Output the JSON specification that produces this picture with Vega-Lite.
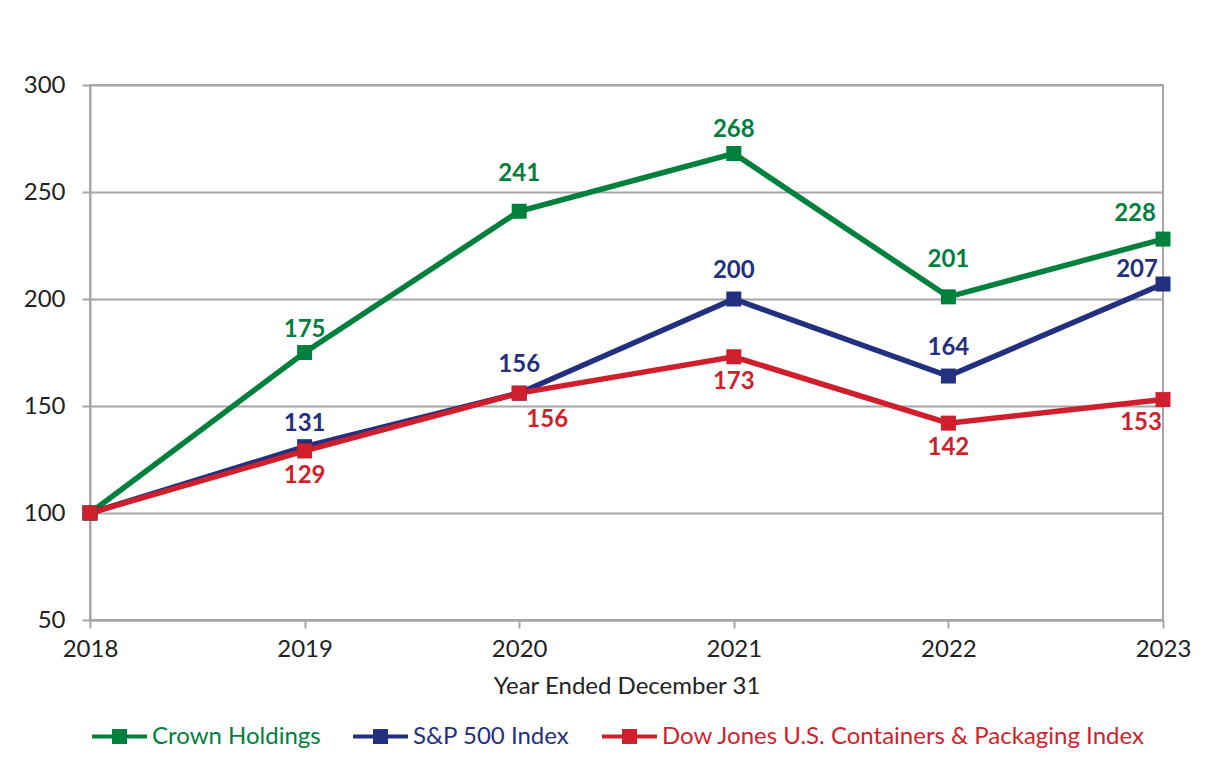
{
  "$schema": "https://vega.github.io/schema/vega-lite/v6.json",
  "width": 1073,
  "height": 535,
  "autosize": {"type": "none"},
  "padding": {"left": 90, "top": 85, "right": 57, "bottom": 147},
  "background": "white",
  "config": {
    "font": "Lato",
    "view": {"stroke": "#A6A6A6", "strokeWidth": 2},
    "axis": {"labelFont": "Lato", "titleFont": "Lato", "labelColor": "#222222", "titleColor": "#222222"}
  },
  "data": {
    "values": [
      {"year": 2018, "series": "Crown Holdings", "value": 100},
      {"year": 2019, "series": "Crown Holdings", "value": 175},
      {"year": 2020, "series": "Crown Holdings", "value": 241},
      {"year": 2021, "series": "Crown Holdings", "value": 268},
      {"year": 2022, "series": "Crown Holdings", "value": 201},
      {"year": 2023, "series": "Crown Holdings", "value": 228},
      {"year": 2018, "series": "S&P 500 Index", "value": 100},
      {"year": 2019, "series": "S&P 500 Index", "value": 131},
      {"year": 2020, "series": "S&P 500 Index", "value": 156},
      {"year": 2021, "series": "S&P 500 Index", "value": 200},
      {"year": 2022, "series": "S&P 500 Index", "value": 164},
      {"year": 2023, "series": "S&P 500 Index", "value": 207},
      {"year": 2018, "series": "Dow Jones U.S. Containers & Packaging Index", "value": 100},
      {"year": 2019, "series": "Dow Jones U.S. Containers & Packaging Index", "value": 129},
      {"year": 2020, "series": "Dow Jones U.S. Containers & Packaging Index", "value": 156},
      {"year": 2021, "series": "Dow Jones U.S. Containers & Packaging Index", "value": 173},
      {"year": 2022, "series": "Dow Jones U.S. Containers & Packaging Index", "value": 142},
      {"year": 2023, "series": "Dow Jones U.S. Containers & Packaging Index", "value": 153}
    ]
  },
  "encoding": {
    "x": {
      "field": "year", "type": "quantitative",
      "scale": {"domain": [2018, 2023], "nice": false, "zero": false},
      "axis": {
        "values": [2018, 2019, 2020, 2021, 2022, 2023], "format": "d",
        "grid": false, "domainColor": "#A6A6A6", "domainWidth": 2,
        "tickColor": "#A6A6A6", "tickWidth": 2, "tickSize": 8,
        "labelFontSize": 24, "labelPadding": 9, "labelFlush": false,
        "title": "Year Ended December 31", "titleFontSize": 24, "titleFontWeight": "normal", "titlePadding": 13
      }
    },
    "y": {
      "field": "value", "type": "quantitative",
      "scale": {"domain": [50, 300], "nice": false, "zero": false},
      "axis": {
        "values": [50, 100, 150, 200, 250, 300], "title": null,
        "grid": true, "gridColor": "#A6A6A6", "gridWidth": 2,
        "domainColor": "#A6A6A6", "domainWidth": 2,
        "tickColor": "#A6A6A6", "tickWidth": 2, "tickSize": 8,
        "labelFontSize": 24, "labelPadding": 17
      }
    },
    "color": {
      "field": "series", "type": "nominal",
      "scale": {
        "domain": ["Crown Holdings", "S&P 500 Index", "Dow Jones U.S. Containers & Packaging Index"],
        "range": ["#00803D", "#23307F", "#D01F2C"]
      },
      "legend": {
        "title": null, "orient": "bottom", "direction": "horizontal",
        "symbolType": "M-1,0H1M-0.2,-0.2H0.2V0.2H-0.2Z",
        "symbolSize": 3025, "symbolStrokeWidth": 4,
        "labelFontSize": 24, "labelFont": "Lato", "labelOffset": 3,
        "columnPadding": 24, "offset": 9, "labelLimit": 700,
        "encode": {
          "labels": {"update": {"fill": {"scale": "color", "field": "value"}}},
          "symbols": {"update": {
            "fill": {"scale": "color", "field": "value"},
            "stroke": {"scale": "color", "field": "value"},
            "strokeWidth": {"value": 4},
            "size": {"value": 3025},
            "opacity": {"value": 1}
          }}
        }
      }
    }
  },
  "layer": [
    {"mark": {"type": "line", "strokeWidth": 5.5}},
    {"mark": {"type": "point", "shape": "square", "filled": true, "size": 225, "opacity": 1}},
    {
      "transform": [{"filter": "datum.year == 2019 && datum.series != 'Dow Jones U.S. Containers & Packaging Index' || datum.year == 2021 && datum.series == 'Crown Holdings'"}],
      "mark": {"type": "text", "fontWeight": "bold", "fontSize": 24, "dy": -23, "baseline": "middle"},
      "encoding": {"text": {"field": "value"}}
    },
    {
      "transform": [{"filter": "datum.series == 'S&P 500 Index' && datum.year >= 2020 && datum.year <= 2022"}],
      "mark": {"type": "text", "fontWeight": "bold", "fontSize": 24, "dy": -28, "baseline": "middle"},
      "encoding": {"text": {"field": "value"}}
    },
    {
      "transform": [{"filter": "datum.series == 'Crown Holdings' && (datum.year == 2020 || datum.year == 2022)"}],
      "mark": {"type": "text", "fontWeight": "bold", "fontSize": 24, "dy": -37, "baseline": "middle"},
      "encoding": {"text": {"field": "value"}}
    },
    {
      "transform": [{"filter": "datum.series == 'Dow Jones U.S. Containers & Packaging Index' && (datum.year == 2019 || datum.year == 2021 || datum.year == 2022)"}],
      "mark": {"type": "text", "fontWeight": "bold", "fontSize": 24, "dy": 25, "baseline": "middle"},
      "encoding": {"text": {"field": "value"}}
    },
    {
      "transform": [{"filter": "datum.series == 'Dow Jones U.S. Containers & Packaging Index' && datum.year == 2020"}],
      "mark": {"type": "text", "fontWeight": "bold", "fontSize": 24, "dx": 28, "dy": 27, "baseline": "middle"},
      "encoding": {"text": {"field": "value"}}
    },
    {
      "transform": [{"filter": "datum.series == 'Crown Holdings' && datum.year == 2023"}],
      "mark": {"type": "text", "fontWeight": "bold", "fontSize": 24, "dx": -28, "dy": -25, "baseline": "middle"},
      "encoding": {"text": {"field": "value"}}
    },
    {
      "transform": [{"filter": "datum.series == 'S&P 500 Index' && datum.year == 2023"}],
      "mark": {"type": "text", "fontWeight": "bold", "fontSize": 24, "dx": -26, "dy": -14, "baseline": "middle"},
      "encoding": {"text": {"field": "value"}}
    },
    {
      "transform": [{"filter": "datum.series == 'Dow Jones U.S. Containers & Packaging Index' && datum.year == 2023"}],
      "mark": {"type": "text", "fontWeight": "bold", "fontSize": 24, "dx": -22, "dy": 23, "baseline": "middle"},
      "encoding": {"text": {"field": "value"}}
    }
  ]
}
